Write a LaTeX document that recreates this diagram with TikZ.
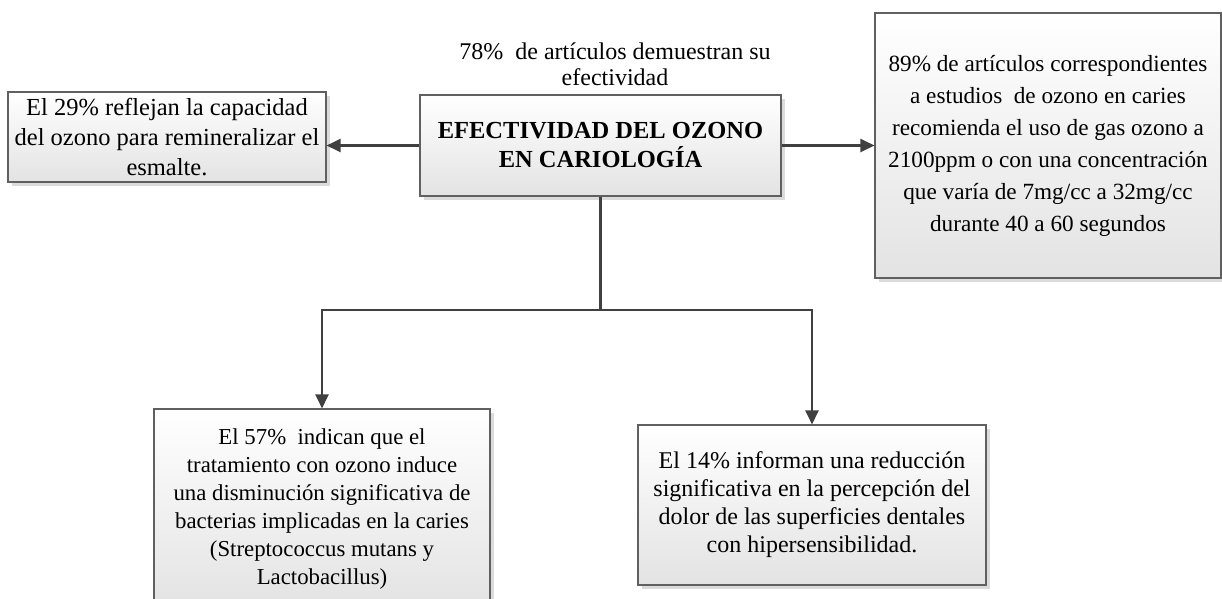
\documentclass[tikz,border=0pt]{standalone}
\usepackage{fontspec}
\setmainfont{Liberation Serif}
\usepackage{tikz}
\usetikzlibrary{arrows.meta, positioning, shadows, calc}

\tikzset{
  caja/.style={rectangle, draw=gray!75!black, line width=1.1pt,
    top color=white, bottom color=gray!22,
    drop shadow={shadow xshift=4pt, shadow yshift=-4pt, fill=gray!35, opacity=0.8},
    align=center, inner sep=0pt},
  flecha/.style={draw=black!75, line width=2.2pt, -{Triangle[length=14pt,width=13pt]}},
  linea/.style={draw=black!75, line width=2.2pt},
}

\begin{document}
\begin{tikzpicture}[x=1pt, y=-1pt]
    \useasboundingbox (0,0) rectangle (1222,598);
    \clip (0,0) rectangle (1222,598);

    % Nodo central
    \node[caja, minimum width=361pt, minimum height=101pt, font=\bfseries\fontsize{24.5}{29}\selectfont] (centro) at (600.5,145.5) {EFECTIVIDAD DEL OZONO\\EN CARIOLOGÍA};
    \node[align=center, font=\fontsize{24}{26}\selectfont] (titulo) at (615,64) {78\%\ \ de artículos demuestran su\\efectividad};

    % Resultados
    \node[caja, minimum width=318pt, minimum height=90pt, font=\fontsize{24.5}{30}\selectfont] (izq) at (167,137) {El 29\% reflejan la capacidad\\del ozono para remineralizar el\\esmalte.};
    \node[caja, minimum width=346pt, minimum height=265pt, font=\fontsize{23.2}{32}\selectfont] (der) at (1048,145.5) {89\% de artículos correspondientes\\a estudios\ \ de ozono en caries\\recomienda el uso de gas ozono a\\2100ppm o con una concentración\\que varía de 7mg/cc a 32mg/cc\\durante 40 a 60 segundos};
    \node[caja, minimum width=336pt, minimum height=200pt, font=\fontsize{22.8}{28}\selectfont] (abajoizq) at (322,509) {El 57\%\ \ indican que el\\tratamiento con ozono induce\\una disminución significativa de\\bacterias implicadas en la caries\\(Streptococcus mutans y\\Lactobacillus)};
    \node[caja, minimum width=348pt, minimum height=160pt, font=\fontsize{24}{28}\selectfont] (abajoder) at (812,505) {El 14\% informan una reducción\\significativa en la percepción del\\dolor de las superficies dentales\\con hipersensibilidad.};

    % Conexiones
    \coordinate (rama) at (600.5,310);
    \draw[flecha] (centro.west) -- (centro.west -| izq.east);
    \draw[flecha] (centro.east) -- (centro.east -| der.west);
    \draw[linea] (centro.south) -- (rama);
    \draw[flecha] (rama) -| (abajoizq.north);
    \draw[flecha] (rama) -| (abajoder.north);
\end{tikzpicture}
\end{document}
